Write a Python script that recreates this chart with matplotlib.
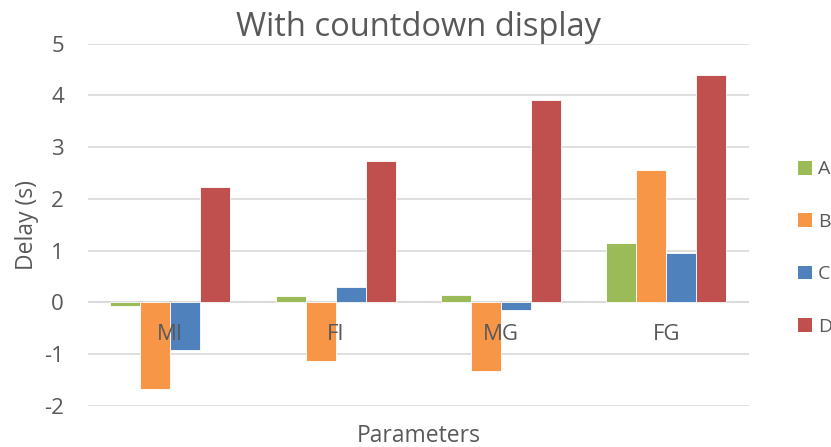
import matplotlib
matplotlib.use("Agg")
import matplotlib.pyplot as plt
from matplotlib.patches import Patch
import numpy as np

categories = ["MI", "FI", "MG", "FG"]
series_names = ["A", "B", "C", "D"]
series_A = [-0.07, 0.12, 0.14, 1.15]
series_B = [-1.67, -1.14, -1.32, 2.55]
series_C = [-0.92, 0.30, -0.15, 0.95]
series_D = [2.23, 2.73, 3.91, 4.40]
y_ticks = [-2, -1, 0, 1, 2, 3, 4, 5]

colors = ["#9BBB59", "#F79646", "#4F81BD", "#C0504D"]
text_color = "#595959"
grid_color = "#D9D9D9"

plt.rcParams["font.family"] = ["Open Sans", "DejaVu Sans"]

fig = plt.figure(figsize=(8.31, 4.47), dpi=100)
ax = fig.add_axes([0.1055, 0.0924, 0.7958, 0.8098])

x = np.arange(len(categories))
n = len(series_names)
bar_w = 0.1815
values = [series_A, series_B, series_C, series_D]
for i, (name, vals, col) in enumerate(zip(series_names, values, colors)):
    offs = (i - (n - 1) / 2) * bar_w
    ax.bar(x + offs, vals, width=bar_w, color=col, edgecolor="white",
           linewidth=0.6, label=name, zorder=3)

ax.set_xlim(-0.5, len(categories) - 0.5)
ax.set_ylim(min(y_ticks), max(y_ticks))
ax.set_yticks(y_ticks)
ax.set_yticklabels([str(t) for t in y_ticks])
ax.yaxis.grid(True, color=grid_color, linewidth=1.2, zorder=0)
ax.axhline(0, color=grid_color, linewidth=1.2, zorder=1)
ax.set_xticks([])
for s in ax.spines.values():
    s.set_visible(False)
ax.tick_params(axis="y", length=0, pad=17, labelsize=16, labelcolor=text_color)

for xi, lab in zip(x, categories):
    ax.annotate(lab, xy=(xi, 0), xytext=(0, -32), textcoords="offset pixels",
                ha="center", va="center", fontsize=16, color=text_color,
                zorder=5)

ax.set_ylabel("Delay (s)", fontsize=16.5, color=text_color, labelpad=4)
ax.set_xlabel("Parameters", fontsize=16.5, color=text_color, labelpad=13)
ax.set_title("With countdown display", fontsize=23.5, color=text_color, pad=5)

handles = [Patch(facecolor=c, edgecolor="none", label=nm)
           for c, nm in zip(colors, series_names)]
fig.legend(handles=handles, loc="center left", bbox_to_anchor=(0.9603, 0.445),
           frameon=False, fontsize=14, handlelength=0.72, handleheight=0.72,
           handletextpad=0.3, labelspacing=1.77, labelcolor=text_color,
           borderaxespad=0, borderpad=0)

fig.savefig("out.png", dpi=100, facecolor="white")
